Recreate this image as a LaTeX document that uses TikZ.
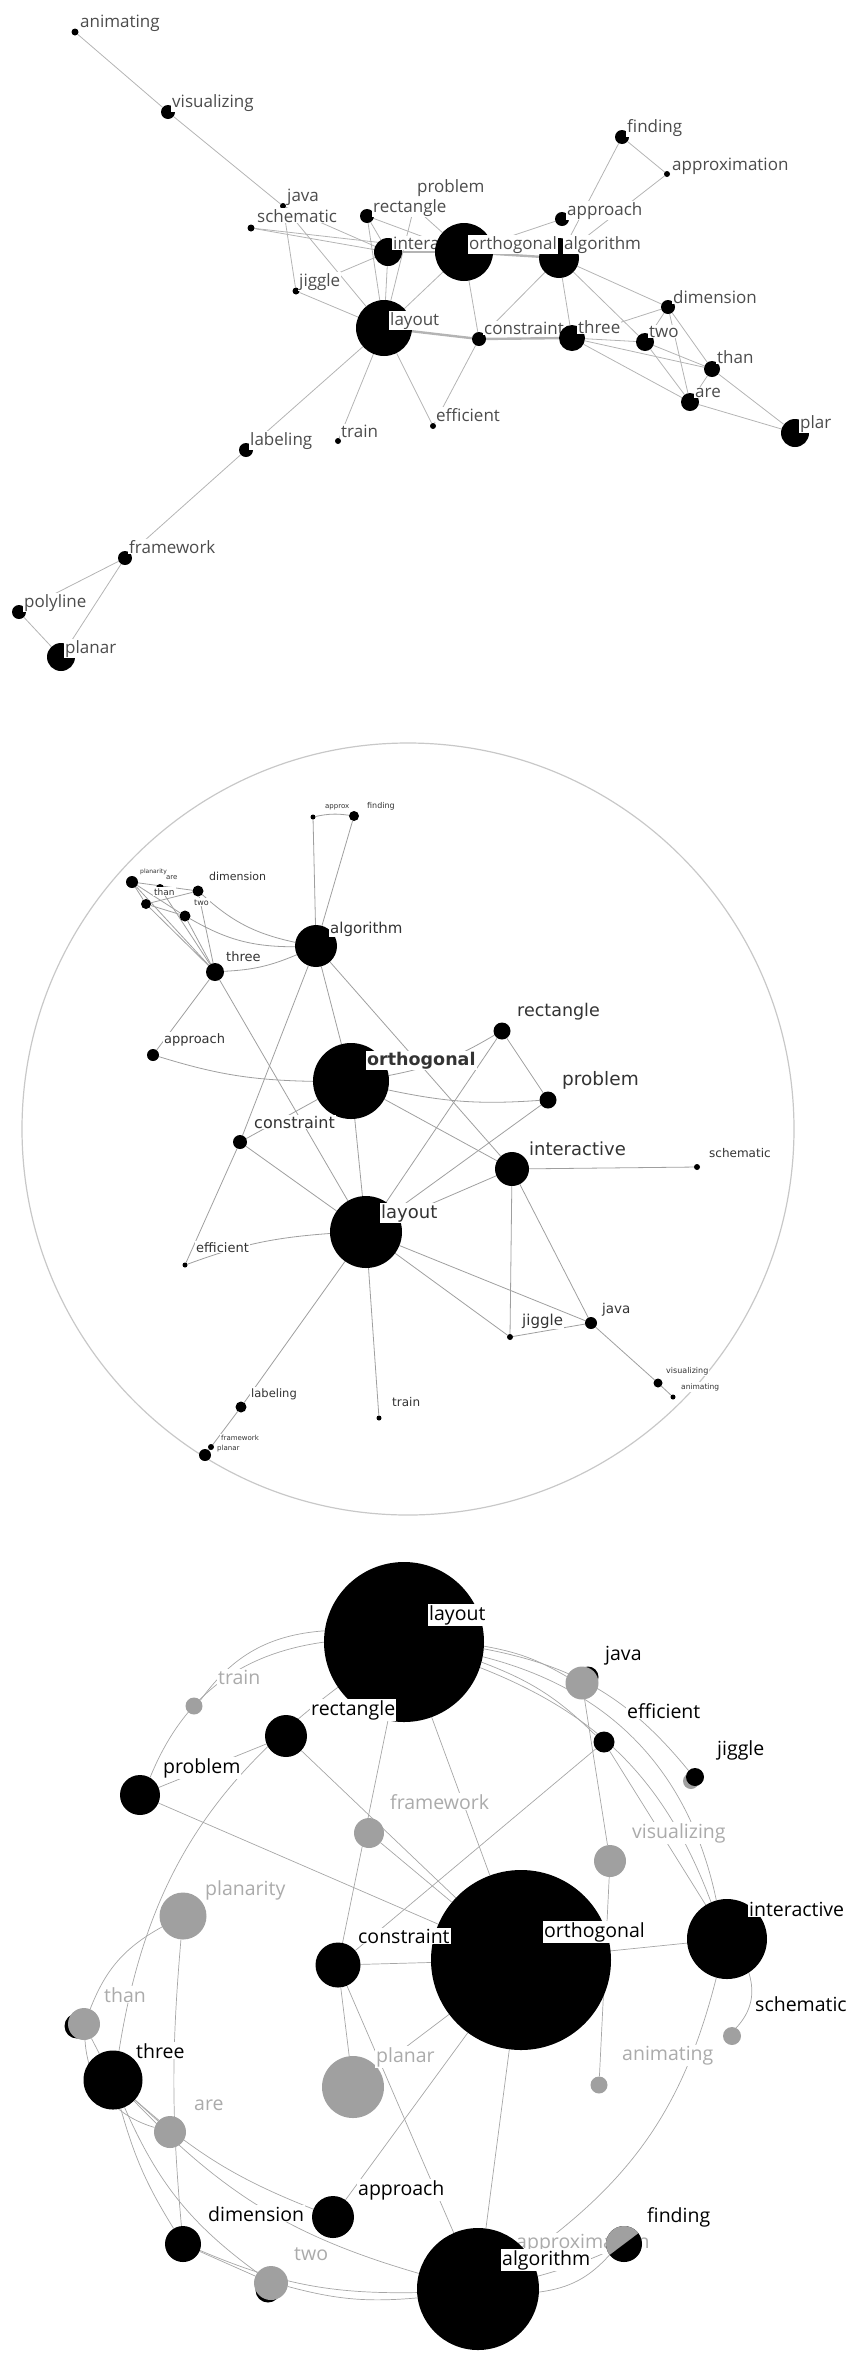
\documentclass[tikz,border=0pt]{standalone}
\usepackage{fontspec}
\setmainfont{Open Sans}
\newfontfamily\dejavu{DejaVu Sans}
\pgfdeclarelayer{background}
\pgfsetlayers{background,main}
\definecolor{edgegray}{HTML}{B4B4B4}
\definecolor{lblgray}{HTML}{4C4C4C}
\definecolor{ringgray}{HTML}{C8C8C8}
\definecolor{p3gray}{HTML}{A0A0A0}
\definecolor{p3text}{HTML}{ABABAB}
\begin{document}
\begin{tikzpicture}[x=1pt, y=-1pt,
  dot/.style={circle, fill=black, inner sep=0pt, minimum size=#1},
  lbl/.style={anchor=base west, inner sep=1pt, fill=white},
  lbls/.style={lbl, text=lblgray, font=\fontsize{17}{17}\selectfont},
  lblr/.style={lbl, text=black!80},
  lblf/.style={lbl, font=\fontsize{19.5}{19.5}\selectfont},
  edge/.style={draw=edgegray, line width=0.8pt},
  ring/.style={draw=ringgray, line width=1.2pt}]
\useasboundingbox (0,0) rectangle (849,2364);

% spring layout
\foreach \nm/\px/\py/\dm/\lab/\lx/\ly in {
  animating/75/32/7/animating/79/27,
  visualizing/168/112/14/visualizing/171/107,
  java/283/206/6/java/286/201,
  schematic/251/228/7/schematic/256/222,
  jiggle/296/291/7/jiggle/298/286,
  problem/414/207/10/problem/416/192,
  rectangle/367/216/14/rectangle/372/212,
  interactive/388/252/28/interactive/392/249,
  algorithm/559/258/40/algorithm/563/249,
  orthogonal/464/252/58/orthogonal/468/249,
  approach/562/219/14/approach/566/215,
  finding/622/137/14/finding/626/132,
  approximation/667/174/6/approximation/671/170,
  layout/384/328/56/layout/389/325,
  dimension/668/307/14/dimension/672/303,
  constraint/479/339/14/constraint/483/334,
  three/572/338/26/three/577/333,
  two/645/342/18/two/648/337,
  than/712/369/16/than/716/363,
  are/690/402/18/are/694/397,
  planarity/795/433/28/plar/799/428,
  efficient/433/426/6/efficient/435/421,
  train/338/441/6/train/340/437,
  labeling/246/450/14/labeling/249/445,
  framework/125/558/14/framework/128/553,
  polyline/19/612/14/polyline/23/607,
  planar/61/657/28/planar/64/653}
{
  \node[dot=\dm pt] (s-\nm) at (\px,\py) {};
  \node[lbls] (s-\nm-l) at (\lx,\ly) {\lab};
}
\begin{pgfonlayer}{background}
\foreach \pa/\pb in {animating/visualizing, visualizing/java, java/jiggle,
  java/layout, java/interactive, schematic/interactive, schematic/orthogonal,
  rectangle/interactive, rectangle/layout, rectangle/orthogonal,
  problem/orthogonal, problem/layout, interactive/layout, jiggle/interactive,
  jiggle/layout, orthogonal/approach, orthogonal/layout, orthogonal/constraint,
  algorithm/finding, algorithm/approximation, finding/approximation,
  algorithm/constraint, algorithm/three, algorithm/two, algorithm/dimension,
  layout/train, layout/efficient, layout/labeling, constraint/efficient,
  three/two, three/than, three/are, three/dimension, dimension/two,
  dimension/than, dimension/are, two/than, two/are, than/are,
  than/planarity, are/planarity, labeling/framework, framework/polyline,
  framework/planar, polyline/planar}
  \draw[edge] (s-\pa) -- (s-\pb);
\foreach \pa/\pb in {layout/constraint, constraint/three,
  orthogonal/interactive, orthogonal/algorithm}
  \draw[edge, line width=2.4pt] (s-\pa) -- (s-\pb);
\end{pgfonlayer}

% radial layout
\draw[ring] (408,1129) circle (386pt);
\foreach \nm/\px/\py/\dm/\lab/\lx/\ly/\fs in {
  approx/313/817/5/approx/324/808/7,
  finding/354/816/10/finding/366/808/8,
  planarity/132/882/12/planarity/139/873/6,
  are/160/888/8/are/165/879/7,
  dimension/198/891/11/dimension/208/880/11,
  than/146/904/10/than/153/895/9,
  two/185/916/11/two/193/905/8,
  algorithm/316/946/42/algorithm/329/933/15,
  three/215/972/18/three/225/961/13,
  approach/153/1055/12/approach/163/1043/13,
  rectangle/502/1031/17/rectangle/516/1016/17.5,
  orthogonal/351/1081/76/\textbf{orthogonal}/366/1065/17.5,
  problem/548/1100/17/problem/561/1085/18.5,
  constraint/240/1142/14/constraint/253/1128/16,
  interactive/512/1169/34/interactive/528/1155/18,
  schematic/697/1167/6/schematic/708/1157/12,
  layout/366/1232/72/layout/380/1218/18,
  efficient/185/1265/5/efficient/195/1252/13,
  java/591/1323/12/java/601/1313/13.5,
  jiggle/510/1337/6/jiggle/521/1325/15,
  visualizing/658/1383/9/visualizing/665/1373/8,
  animating/673/1397/5/animating/680/1389/7.5,
  labeling/241/1407/11/labeling/250/1397/11.5,
  train/379/1418/5/train/391/1406/12,
  framework/211/1447/6/framework/220/1440/7,
  planar/205/1455/12/planar/216/1450/7}
{
  \node[dot=\dm pt] (r-\nm) at (\px,\py) {};
  \node[lblr, font=\dejavu\fontsize{\fs}{\fs}\selectfont] (r-\nm-l) at (\lx,\ly) {\lab};
}
\begin{pgfonlayer}{background}
\foreach \pa/\pb/\bend in {approx/finding/10, approx/algorithm/0,
  finding/algorithm/0, algorithm/three/10, algorithm/two/15,
  algorithm/dimension/15, three/planarity/0, three/than/0, three/two/0,
  three/dimension/0, three/are/0, planarity/than/0, planarity/dimension/0,
  planarity/two/0, than/dimension/0, than/two/0, three/approach/0,
  three/layout/0, algorithm/orthogonal/0, algorithm/constraint/0,
  algorithm/interactive/0, approach/orthogonal/-8, orthogonal/rectangle/-10,
  rectangle/problem/0, rectangle/layout/0, orthogonal/problem/-8,
  orthogonal/constraint/0, orthogonal/layout/0, orthogonal/interactive/0,
  problem/layout/0, constraint/layout/0, constraint/efficient/0,
  layout/efficient/-8, interactive/schematic/0, interactive/layout/0,
  interactive/jiggle/0, interactive/java/0, layout/java/0, layout/jiggle/0,
  jiggle/java/0, java/visualizing/0, visualizing/animating/0,
  layout/labeling/0, layout/train/0, labeling/planar/0}
  \draw[edge, draw=gray!75] (r-\pa) to[bend left=\bend] (r-\pb);
\end{pgfonlayer}

% focus layout
\node[dot=21pt] (f-javaB) at (588,1677) {};
\node[dot=25pt] (f-thanB) at (77,2026) {};
\node[dot=25pt] (f-twoB) at (268,2290) {};
\node[dot=16pt, fill=p3gray] (f-jiggleB) at (691,1781) {};
\node[lblf, text=p3text] (f-approximation-l) at (515,2248) {approximation};
\foreach \nm/\px/\py/\dm/\fc/\lab/\lx/\ly/\tc in {
  layout/404/1642/160/black/layout/428/1620/black,
  train/194/1706/17/p3gray/train/217/1684/p3text,
  rectangle/286/1736/42/black/rectangle/310/1715/black,
  java/582/1683/33/p3gray/java/604/1660/black,
  efficient/604/1742/21/black/efficient/626/1718/black,
  jiggle/695/1777/18/black/jiggle/716/1755/black,
  problem/140/1795/40/black/problem/162/1773/black,
  framework/369/1833/30/p3gray/framework/389/1809/p3text,
  visualizing/610/1861/32/p3gray/visualizing/631/1838/p3text,
  planarity/183/1916/47/p3gray/planarity/204/1895/p3text,
  interactive/727/1939/80/black/interactive/748/1916/black,
  orthogonal/521/1960/180/black/orthogonal/543/1937/black,
  constraint/338/1965/45/black/constraint/357/1943/black,
  than/84/2024/32/p3gray/than/103/2002/p3text,
  schematic/732/2036/18/p3gray/schematic/754/2011/black,
  three/113/2080/59/black/three/135/2058/black,
  planar/353/2087/62/p3gray/planar/375/2062/p3text,
  animating/599/2085/17/p3gray/animating/621/2060/p3text,
  are/170/2132/32/p3gray/are/193/2110/p3text,
  approach/333/2217/42/black/approach/357/2195/black,
  dimension/183/2244/36/black/dimension/207/2221/black,
  two/271/2283/34/p3gray/two/293/2260/p3text,
  algorithm/478/2289/122/black/algorithm/501/2265/black,
  finding/624/2244/36/black/finding/646/2222/black}
{
  \node[dot=\dm pt, fill=\fc] (f-\nm) at (\px,\py) {};
  \node[lblf, text=\tc] (f-\nm-l) at (\lx,\ly) {\lab};
}
\fill[p3gray] (f-finding.center) ++(37:18pt)
  arc[start angle=37, end angle=217, radius=18pt] -- cycle;
\coordinate (f-approximation) at (f-finding.center);
\begin{pgfonlayer}{background}
\foreach \pa/\pb/\bend in {layout/interactive/32, layout/interactive/24,
  layout/jiggle/20, layout/efficient/12, layout/java/10, layout/problem/-30,
  layout/three/-22, train/layout/25, rectangle/problem/0,
  rectangle/orthogonal/0, layout/constraint/0, layout/orthogonal/0,
  problem/orthogonal/0, efficient/constraint/0, java/visualizing/0,
  visualizing/animating/0, efficient/interactive/0,
  orthogonal/interactive/0, constraint/orthogonal/0, constraint/planar/0,
  constraint/algorithm/0, framework/orthogonal/0, planar/orthogonal/0,
  orthogonal/approach/0, orthogonal/algorithm/0, interactive/algorithm/20,
  interactive/schematic/30, planarity/than/-20, planarity/dimension/-5,
  than/three/0, than/are/-35, three/are/0, three/approach/-10,
  three/algorithm/-15, three/dimension/-8, three/two/-15, dimension/two/0,
  dimension/algorithm/-12, two/algorithm/-10, algorithm/finding/-20,
  algorithm/approximation/-5}
  \draw[edge, draw=gray!70, line width=0.7pt] (f-\pa) to[bend left=\bend] (f-\pb);
\end{pgfonlayer}
\end{tikzpicture}
\end{document}
